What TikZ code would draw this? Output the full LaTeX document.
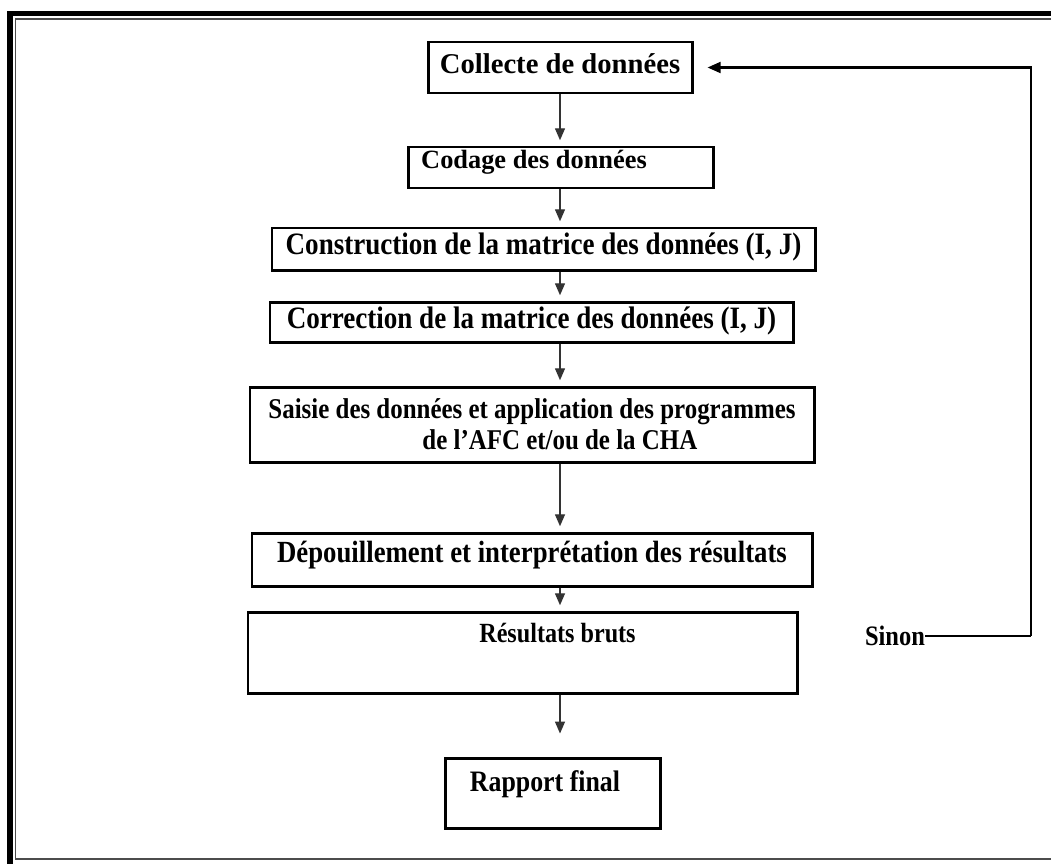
\documentclass[tikz,border=0pt]{standalone}
\usepackage{fontspec}
\setmainfont{Liberation Serif}
\usetikzlibrary{arrows.meta,positioning,calc}
\newcommand{\etroit}[1]{\scalebox{0.87}[1]{#1}}
\tikzset{>=Triangle,
  boite/.style={draw, line width=1.7pt, inner sep=0pt, align=center,
    font=\fontsize{17.7}{20}\selectfont\bfseries},
  fleche/.style={->, line width=0.75pt, draw=black!80, shorten >=3pt,
    >={Triangle[length=6.8pt,width=5.7pt]}},
  retour/.style={->, line width=1.4pt, >={Triangle[length=7.5pt,width=6.2pt]}}}

\begin{document}
\begin{tikzpicture}[x=1cm, y=1cm]
  \useasboundingbox (0,0) rectangle (21.02,-17.26);
  % cadre double
  \draw[line width=3.4pt] (21.4,-0.27) -- (0.20,-0.27) -- (0.20,-17.4);
  \draw[line width=0.9pt, black!70] (21.4,-0.38) -- (0.31,-0.38) -- (0.31,-17.18) -- (21.4,-17.18);
  \coordinate (axe) at (11.2,0);
  \node[boite, minimum width=5.28cm, text height=0.62cm, text depth=0.40cm,
    font=\fontsize{16.3}{19}\selectfont\bfseries] (collecte) at (11.2,-1.35) {Collecte de données};
  \node[boite, minimum width=6.10cm, text height=0.42cm, text depth=0.40cm,
    font=\fontsize{15}{17}\selectfont\bfseries] (codage) at (11.21,-3.35) {Codage des données\hspace*{1.06cm}};
  \node[boite, minimum width=10.86cm, text height=0.52cm, text depth=0.32cm] (construction) at (10.87,-4.98)
    {\etroit{Construction de la matrice des données (I, J)}};
  \node[boite, minimum width=10.46cm, text height=0.52cm, text depth=0.28cm] (correction) at (10.63,-6.44)
    {\etroit{Correction de la matrice des données (I, J)}};
  \node[boite, minimum width=11.28cm, minimum height=1.50cm, align=left,
    font=\fontsize{16.3}{17.6}\selectfont\bfseries] (saisie) at (10.64,-8.49)
    {\etroit{Saisie des données et application des programmes}\\\hspace*{3.08cm}\etroit{de l'AFC et/ou de la CHA}};
  \node[boite, minimum width=11.2cm, text height=0.58cm, text depth=0.48cm,
    font=\fontsize{17.5}{19}\selectfont\bfseries] (depouillement) at (10.64,-11.19)
    {\etroit{Dépouillement et interprétation des résultats}};
  \node[boite, minimum width=10.98cm, text height=0.60cm, text depth=1.02cm,
    font=\fontsize{15.8}{18}\selectfont\bfseries] (resultats) at (10.45,-13.05)
    {\hspace*{1.4cm}\etroit{Résultats bruts}};
  \node[boite, minimum width=4.30cm, text height=0.66cm, text depth=0.74cm,
    font=\fontsize{16.9}{19}\selectfont\bfseries] (rapport) at (11.05,-15.86)
    {\etroit{Rapport final}\hspace*{0.3cm}};
  \node[inner sep=0pt, font=\fontsize{16}{18}\selectfont\bfseries] (sinon) at (17.9,-12.72) {\etroit{Sinon}};
  \coordinate (coin) at (20.62,-12.72);
  % enchainement
  \draw[fleche] (collecte.south -| axe) -- (codage.north -| axe);
  \draw[fleche] (codage.south -| axe) -- (construction.north -| axe);
  \draw[fleche] (construction.south -| axe) -- (correction.north -| axe);
  \draw[fleche] (correction.south -| axe) -- (saisie.north -| axe);
  \draw[fleche] (saisie.south -| axe) -- (depouillement.north -| axe);
  \draw[fleche] (depouillement.south -| axe) -- (resultats.north -| axe);
  \draw[fleche, shorten >=0.46cm] (resultats.south -| axe) -- (rapport.north -| axe);
  % boucle de retour
  \draw[line width=0.8pt] (sinon.east) -- (coin);
  \draw[retour, shorten >=0.28cm] (coin) |- (collecte.east);
\end{tikzpicture}
\end{document}
